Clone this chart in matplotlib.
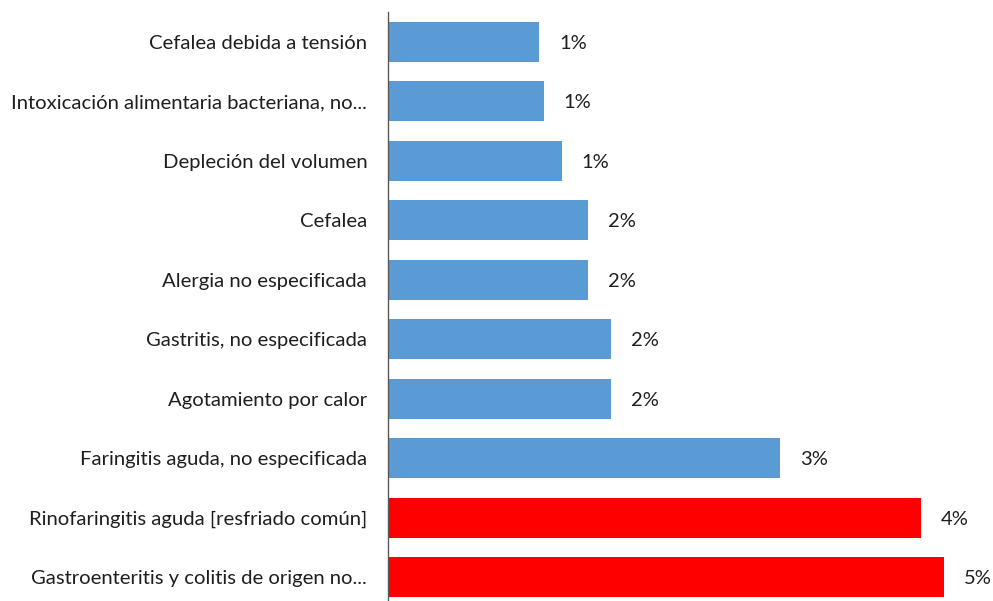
import matplotlib
matplotlib.use("Agg")
import matplotlib.pyplot as plt

# top-to-bottom order as shown in the chart
categories = [
    "Cefalea debida a tensión",
    "Intoxicación alimentaria bacteriana, no...",
    "Depleción del volumen",
    "Cefalea",
    "Alergia no especificada",
    "Gastritis, no especificada",
    "Agotamiento por calor",
    "Faringitis aguda, no especificada",
    "Rinofaringitis aguda [resfriado común]",
    "Gastroenteritis y colitis de origen no...",
]
values = [1.25, 1.29, 1.44, 1.66, 1.66, 1.85, 1.85, 3.25, 4.42, 4.61]
labels = ["1%", "1%", "1%", "2%", "2%", "2%", "2%", "3%", "4%", "5%"]
highlight = [False] * 8 + [True, True]

BLUE = "#5B9BD5"
RED = "#FF0000"
TEXT = "#1f1f1f"

plt.rcParams["font.family"] = ["Lato", "DejaVu Sans"]

W, H = 993, 601
fig = plt.figure(figsize=(W / 100, H / 100), dpi=100)
ax = fig.add_axes([388 / W, 0.0, 605 / W, 589 / H])

n = len(categories)
ypos = [n - 1 - i for i in range(n)]
colors = [RED if h else BLUE for h in highlight]
ax.barh(ypos, values, height=0.67, color=colors, zorder=2)

for y, v, lab in zip(ypos, values, labels):
    ax.annotate(lab, (v, y), xytext=(14.5, -1), textcoords="offset points",
                ha="left", va="center", fontsize=14.5, color=TEXT)

ax.set_xlim(0, 605 / 120.6)
ax.set_ylim(-0.4, 9.5)
ax.set_yticks(ypos)
ax.set_yticklabels(categories, fontsize=14.6, color=TEXT)
ax.tick_params(axis="y", length=0, pad=15)
ax.xaxis.set_visible(False)
for s in ("top", "right", "bottom"):
    ax.spines[s].set_visible(False)
ax.spines["left"].set_color("#595959")
ax.spines["left"].set_linewidth(1.0)

fig.savefig("out.png", dpi=100)
